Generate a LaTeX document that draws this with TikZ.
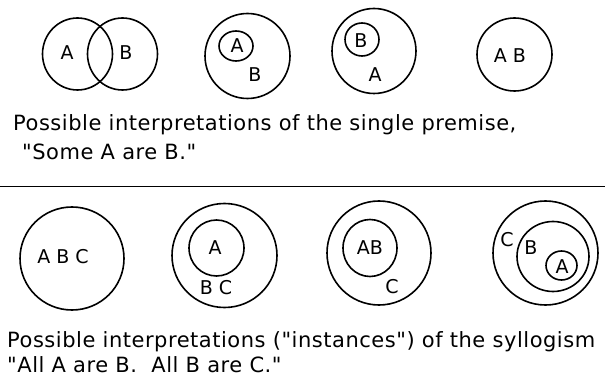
\documentclass[tikz,border=0pt]{standalone}
\usepackage{fontspec}
\setmainfont{DejaVu Sans}
\newfontfamily\capfont[LetterSpace=2.5]{DejaVu Sans}
\usetikzlibrary{shapes.geometric}
\begin{document}
\begin{tikzpicture}[x=1pt,y=-1pt,
  ring/.style={draw, line width=1.6pt, ellipse, inner sep=0pt},
  lbl/.style={inner sep=0pt, font=\fontsize{19}{19}\selectfont},
  caption/.style={inner sep=0pt, anchor=base west, font=\capfont\fontsize{21}{21}\selectfont}]
\useasboundingbox (0,0) rectangle (605,382);
% top row
\node[ring, minimum width=70, minimum height=72] (v1) at (77.5,54) {};
\node[ring, minimum width=70, minimum height=72] (v2) at (122.5,54) {};
\node[lbl] (v1a) at (67,53) {A};
\node[lbl] (v2b) at (126,53) {B};

\node[ring, minimum width=85, minimum height=85] (s2big) at (247.5,56) {};
\node[ring, minimum width=34, minimum height=30] (s2small) at (236,46) {};
\node[lbl] (s2a) at (237,46) {A};
\node[lbl] (s2b) at (255,75) {B};

\node[ring, minimum width=84, minimum height=85] (s3big) at (374,51) {};
\node[ring, minimum width=34, minimum height=33] (s3small) at (362,39.5) {};
\node[lbl] (s3b) at (361,41) {B};
\node[lbl] (s3a) at (375,75) {A};

\node[ring, minimum width=75, minimum height=73] (s4) at (514.5,54.5) {};
\node[lbl] (s4ab) at (510,56) {A B};

\node[caption] (cap1) at (13,131) {Possible interpretations of the single premise,};
\node[caption] (cap2) at (22,160) {\char34 Some A are B.\char34};

% divider
\coordinate (dl) at (0,186.5);
\coordinate (dr) at (605,186.5);
\draw[line width=1.8pt] (dl) -- (dr);

% bottom row
\node[ring, minimum width=104, minimum height=103] (b1) at (72,258.5) {};
\node[lbl] (b1abc) at (63,257) {A B C};

\node[ring, minimum width=105, minimum height=104] (b2big) at (224.5,255.5) {};
\node[ring, minimum width=55, minimum height=56] (b2small) at (216.5,248) {};
\node[lbl] (b2a) at (215,248) {A};
\node[lbl] (b2bc) at (216,288) {B C};

\node[ring, minimum width=104, minimum height=104] (b3big) at (379,253) {};
\node[ring, minimum width=54, minimum height=57] (b3small) at (370,248) {};
\node[lbl] (b3ab) at (370,248) {AB};
\node[lbl] (b3c) at (392,287) {C};

\node[ring, minimum width=105, minimum height=104] (b4big) at (545.5,253) {};
\node[ring, minimum width=72, minimum height=70] (b4mid) at (553,256.5) {};
\node[ring, minimum width=31, minimum height=29] (b4small) at (561.5,265.5) {};
\node[lbl] (b4c) at (507,240) {C};
\node[lbl] (b4b) at (531,248) {B};
\node[lbl] (b4a) at (562,267) {A};

\node[caption] (cap3) at (7,347) {Possible interpretations (\char34 instances\char34) of the syllogism};
\node[caption] (cap4) at (7,372) {\char34 All A are B.\ \ All B are C.\char34};
\end{tikzpicture}
\end{document}
